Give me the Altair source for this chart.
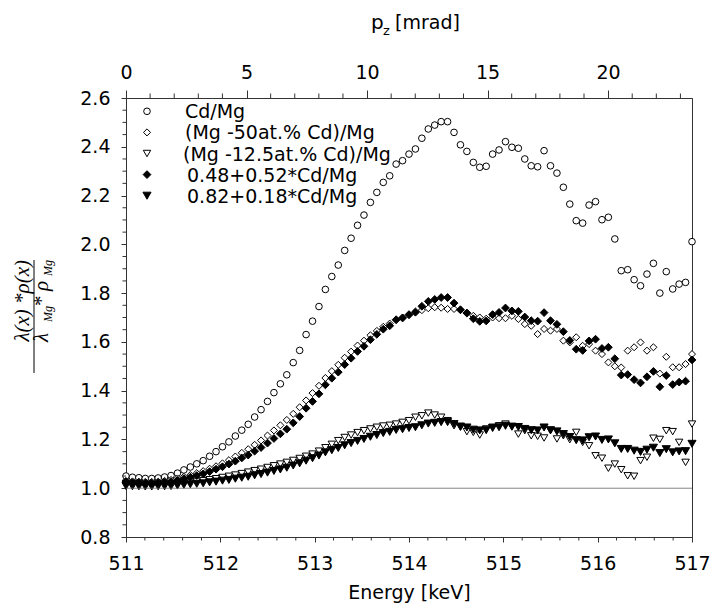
import altair as alt
import pandas as pd

SANS = "DejaVu Sans"
SERIF = "Liberation Serif"

# Energy channels (keV): 89 channels from 511 to 517
e_start, e_stop, n_chan = 511.0, 517.0, 89
energy = [round(e_start + (e_stop - e_start) * i / (n_chan - 1), 4) for i in range(n_chan)]

series_names = ["Cd/Mg", "(Mg -50at.% Cd)/Mg", "(Mg -12.5at.% Cd)/Mg",
                "0.48+0.52*Cd/Mg", "0.82+0.18*Cd/Mg"]

cd_mg = [1.050, 1.045, 1.043, 1.040, 1.040, 1.042, 1.046, 1.052, 1.062, 1.075,
         1.087, 1.100, 1.113, 1.131, 1.150, 1.170, 1.190, 1.214, 1.238, 1.262,
         1.292, 1.322, 1.356, 1.392, 1.428, 1.465, 1.515, 1.565, 1.630, 1.685,
         1.745, 1.815, 1.868, 1.915, 1.975, 2.025, 2.078, 2.120, 2.172, 2.213,
         2.254, 2.281, 2.329, 2.343, 2.370, 2.391, 2.435, 2.473, 2.489, 2.503,
         2.503, 2.459, 2.408, 2.381, 2.336, 2.316, 2.320, 2.370, 2.387, 2.421,
         2.398, 2.394, 2.350, 2.322, 2.318, 2.384, 2.322, 2.292, 2.234, 2.165,
         2.097, 2.087, 2.161, 2.175, 2.101, 2.111, 2.022, 1.892, 1.896, 1.855,
         1.830, 1.878, 1.922, 1.800, 1.888, 1.817, 1.837, 1.844, 2.011]

mg50 = [1.030, 1.028, 1.027, 1.026, 1.026, 1.027, 1.030, 1.034, 1.040, 1.047,
        1.054, 1.062, 1.070, 1.080, 1.090, 1.102, 1.115, 1.130, 1.145, 1.160,
        1.178, 1.196, 1.216, 1.237, 1.258, 1.280, 1.305, 1.332, 1.360, 1.390,
        1.420, 1.452, 1.480, 1.506, 1.535, 1.560, 1.585, 1.605, 1.627, 1.645,
        1.662, 1.675, 1.690, 1.700, 1.710, 1.720, 1.730, 1.738, 1.742, 1.740,
        1.735, 1.735, 1.730, 1.720, 1.707, 1.700, 1.695, 1.700, 1.697, 1.697,
        1.707, 1.694, 1.673, 1.666, 1.632, 1.653, 1.646, 1.653, 1.605, 1.598,
        1.619, 1.584, 1.591, 1.564, 1.550, 1.516, 1.500, 1.495, 1.564, 1.578,
        1.598, 1.564, 1.578, 1.470, 1.539, 1.496, 1.496, 1.509, 1.550]

mg125 = [1.020, 1.018, 1.016, 1.015, 1.015, 1.015, 1.016, 1.018, 1.020, 1.022,
         1.025, 1.028, 1.031, 1.035, 1.039, 1.044, 1.049, 1.054, 1.060, 1.066,
         1.072, 1.078, 1.085, 1.092, 1.099, 1.106, 1.114, 1.122, 1.131, 1.140,
         1.152, 1.166, 1.180, 1.195, 1.208, 1.218, 1.228, 1.236, 1.243, 1.250,
         1.255, 1.258, 1.263, 1.270, 1.277, 1.291, 1.297, 1.308, 1.300, 1.291,
         1.277, 1.256, 1.250, 1.232, 1.229, 1.218, 1.243, 1.250, 1.256, 1.263,
         1.253, 1.222, 1.236, 1.215, 1.213, 1.206, 1.236, 1.202, 1.215, 1.199,
         1.229, 1.188, 1.174, 1.133, 1.123, 1.082, 1.099, 1.076, 1.051, 1.049,
         1.113, 1.127, 1.205, 1.200, 1.236, 1.232, 1.188, 1.106, 1.263]

fit052 = [1.026, 1.023, 1.022, 1.021, 1.021, 1.022, 1.024, 1.027, 1.032, 1.039,
          1.045, 1.052, 1.059, 1.068, 1.078, 1.088, 1.099, 1.111, 1.124, 1.136,
          1.152, 1.167, 1.185, 1.204, 1.223, 1.242, 1.268, 1.294, 1.328, 1.356,
          1.387, 1.424, 1.451, 1.476, 1.507, 1.533, 1.561, 1.582, 1.609, 1.631,
          1.652, 1.666, 1.691, 1.698, 1.712, 1.723, 1.746, 1.766, 1.774, 1.782,
          1.782, 1.759, 1.732, 1.718, 1.695, 1.684, 1.686, 1.712, 1.721, 1.739,
          1.727, 1.725, 1.702, 1.687, 1.685, 1.720, 1.687, 1.672, 1.642, 1.606,
          1.570, 1.565, 1.604, 1.611, 1.573, 1.578, 1.531, 1.464, 1.466, 1.445,
          1.432, 1.457, 1.479, 1.416, 1.462, 1.425, 1.435, 1.439, 1.526]

fit018 = [1.009, 1.008, 1.008, 1.007, 1.007, 1.008, 1.008, 1.009, 1.011, 1.014,
          1.016, 1.018, 1.020, 1.024, 1.027, 1.031, 1.034, 1.039, 1.043, 1.047,
          1.053, 1.058, 1.064, 1.071, 1.077, 1.084, 1.093, 1.102, 1.113, 1.123,
          1.134, 1.147, 1.156, 1.165, 1.176, 1.185, 1.194, 1.202, 1.211, 1.218,
          1.226, 1.231, 1.239, 1.242, 1.247, 1.250, 1.258, 1.265, 1.268, 1.271,
          1.271, 1.263, 1.253, 1.249, 1.240, 1.237, 1.238, 1.247, 1.250, 1.256,
          1.252, 1.251, 1.243, 1.238, 1.237, 1.249, 1.238, 1.233, 1.222, 1.210,
          1.197, 1.196, 1.209, 1.212, 1.198, 1.200, 1.184, 1.161, 1.161, 1.154,
          1.149, 1.158, 1.166, 1.144, 1.160, 1.147, 1.151, 1.152, 1.182]

series_values = [cd_mg, mg50, mg125, fit052, fit018]
shapes = ["circle", "diamond", "triangle-down", "diamond", "triangle-down"]
fills = ["white", "white", "white", "black", "black"]
sizes = [44, 66, 58, 66, 58]

x_ticks = [511, 512, 513, 514, 515, 516, 517]
x_minor = [511.2, 511.4, 511.6, 511.8, 512.2, 512.4, 512.6, 512.8, 513.2, 513.4, 513.6, 513.8,
           514.2, 514.4, 514.6, 514.8, 515.2, 515.4, 515.6, 515.8, 516.2, 516.4, 516.6, 516.8]
y_ticks = [0.8, 1.0, 1.2, 1.4, 1.6, 1.8, 2.0, 2.2, 2.4, 2.6]
y_minor = [0.85, 0.9, 0.95, 1.05, 1.1, 1.15, 1.25, 1.3, 1.35, 1.45, 1.5, 1.55, 1.65, 1.7, 1.75,
           1.85, 1.9, 1.95, 2.05, 2.1, 2.15, 2.25, 2.3, 2.35, 2.45, 2.5, 2.55]
pz_max = 23.48
pz_ticks = [0, 5, 10, 15, 20]
pz_minor = [1, 2, 3, 4, 6, 7, 8, 9, 11, 12, 13, 14, 16, 17, 18, 19, 21, 22, 23]

W, H = 566, 439
AX = "#333333"
FS = 19

rows = []
for name, vals in zip(series_names, series_values):
    for e, v in zip(energy, vals):
        rows.append({"E": e, "v": v, "series": name})
df = pd.DataFrame(rows)

x_scale = alt.Scale(domain=[511, 517], nice=False, zero=False)
y_scale = alt.Scale(domain=[0.8, 2.6], nice=False, zero=False)
shape_scale = alt.Scale(domain=series_names, range=shapes)
fill_scale = alt.Scale(domain=series_names, range=fills)
size_scale = alt.Scale(domain=series_names, range=sizes)

x_axis = alt.Axis(values=x_ticks, format="d", title="Energy [keV]", titleFont=SANS,
                  titleFontSize=FS, titleFontWeight="normal", titleColor="black",
                  titlePadding=10, labelFont=SANS, labelFontSize=FS, labelColor="black",
                  labelPadding=12, labelFlush=False, labelOverlap=False, tickSize=5,
                  tickColor=AX, domainColor=AX, grid=False)
y_axis = alt.Axis(values=y_ticks, format=".1f", title=None, labelFont=SANS, labelFontSize=FS,
                  labelColor="black", labelPadding=11, labelFlush=False, labelOverlap=False,
                  tickSize=5, tickColor=AX, domainColor=AX, grid=False)

points = alt.Chart(df).mark_point(filled=True, strokeWidth=1, opacity=1).encode(
    x=alt.X("E:Q", scale=x_scale, axis=x_axis),
    y=alt.Y("v:Q", scale=y_scale, axis=y_axis),
    shape=alt.Shape("series:N", scale=shape_scale, legend=None),
    fill=alt.Fill("series:N", scale=fill_scale, legend=None),
    size=alt.Size("series:N", scale=size_scale, legend=None),
    stroke=alt.value("black"),
)

baseline = alt.Chart(pd.DataFrame({"v": [1.0]})).mark_rule(color="#666666", strokeWidth=0.8).encode(
    y=alt.Y("v:Q", scale=y_scale, axis=y_axis)
)

xminor = alt.Chart(pd.DataFrame({"E": x_minor})).mark_rule(color=AX, strokeWidth=1).encode(
    x=alt.X("E:Q", scale=x_scale, axis=x_axis),
    y=alt.value(H), y2=alt.value(H + 3.5)
)
yminor = alt.Chart(pd.DataFrame({"v": y_minor})).mark_rule(color=AX, strokeWidth=1).encode(
    y=alt.Y("v:Q", scale=y_scale, axis=y_axis),
    x=alt.value(0), x2=alt.value(-3.5)
)


def txt(s, x, y, size, font=SANS, style="normal", angle=0, align="left", base="alphabetic"):
    return alt.Chart(pd.DataFrame({"t": [s]})).mark_text(
        font=font, fontSize=size, fontStyle=style, angle=angle, align=align, baseline=base,
        color="black"
    ).encode(text="t:N", x=alt.value(x), y=alt.value(y))


# legend (inside plot, top-left), plot-relative pixel layout
LEG_SYM_X, LEG_TXT_X, LEG_Y0, LEG_DY = 21, 59, 20.3, 21.1
leg_txt_dx = [0, 0, -2, 2, 2]
legend_layers = []
for k, name in enumerate(series_names):
    yb = LEG_Y0 + k * LEG_DY
    legend_layers.append(
        alt.Chart(pd.DataFrame({"series": [name]})).mark_point(filled=True, strokeWidth=1, opacity=1).encode(
            x=alt.value(LEG_SYM_X), y=alt.value(yb - 7),
            shape=alt.Shape("series:N", scale=shape_scale, legend=None),
            fill=alt.Fill("series:N", scale=fill_scale, legend=None),
            size=alt.Size("series:N", scale=size_scale, legend=None),
            stroke=alt.value("black"),
        )
    )
    legend_layers.append(txt(name, LEG_TXT_X + leg_txt_dx[k], yb, FS))

# y-axis title as fraction  lambda(x)*rho(x) / lambda_Mg*rho_Mg  (plot-relative pixels)
frac_line = alt.Chart(pd.DataFrame({"a": [0]})).mark_rule(color="black", strokeWidth=1).encode(
    x=alt.value(-92), y=alt.value(162), y2=alt.value(275)
)
num = txt("λ(x) *ρ(x)", -97, 162, 21, SERIF, "italic", 270, "right")
den_parts = [
    txt("λ", -78, 244, 21, SERIF, "italic", 270, "left"),
    txt("Mg", -74, 224, 12, SERIF, "italic", 270, "left"),
    txt("*", -78, 209, 21, SERIF, "italic", 270, "left"),
    txt("ρ", -78, 193, 21, SERIF, "italic", 270, "left"),
    txt("Mg", -74, 178, 12, SERIF, "italic", 270, "left"),
]

# top title p_z [mrad], centred over the plot
top_title = [
    txt("p", W / 2 - 38, -69, FS + 1),
    txt("z", W / 2 - 26, -63.5, 13),
    txt("[mrad]", W / 2 - 14, -69, FS),
]

main = alt.layer(points, baseline, xminor, yminor, frac_line, num, *den_parts, *top_title,
                 *legend_layers)

pz_axis = alt.Axis(orient="top", values=pz_ticks, format="d", title=None, labelFont=SANS,
                   labelFontSize=FS, labelColor="black", labelPadding=8, labelFlush=False,
                   labelOverlap=False, tickSize=8, tickColor=AX, domainColor=AX, grid=False)
pz_layer = alt.Chart(pd.DataFrame({"pz": pz_minor})).mark_rule(color=AX, strokeWidth=1).encode(
    x=alt.X("pz:Q", scale=alt.Scale(domain=[0, pz_max], nice=False, zero=False), axis=pz_axis),
    y=alt.value(0), y2=alt.value(-4.5)
)

chart = alt.layer(main, pz_layer).resolve_scale(x="independent").properties(
    width=W, height=H,
    autosize=alt.AutoSizeParams(type="none"),
    padding={"left": 118, "top": 90, "right": 19, "bottom": 70},
    background="white",
).configure_view(stroke=AX, strokeWidth=1)

chart.save("out.html", embed_options={"renderer": "svg", "actions": False})
